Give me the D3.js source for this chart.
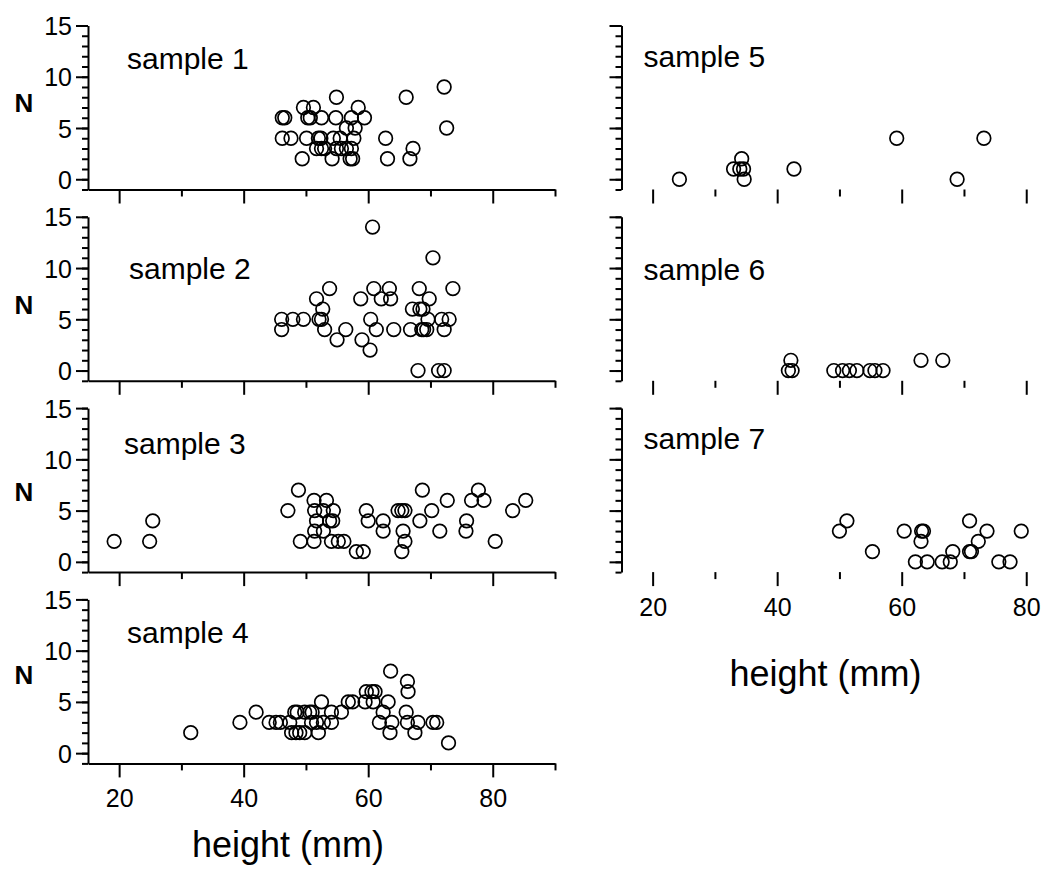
<!DOCTYPE html>
<html>
<head>
<meta charset="utf-8">
<script src="https://cdn.jsdelivr.net/npm/d3@7"></script>
<style>
  html, body { margin: 0; padding: 0; background: #fff; }
  svg text { font-family: "Liberation Sans", Arial, Helvetica, sans-serif; fill: #000; }
</style>
</head>
<body>
<svg id="chart" width="1044" height="874"></svg>
<script>
// Shell height (mm) and count N for each sample: [height, N]
const sample1 = [[46.2,6],[46.6,6],[46.2,4],[47.6,4],[49.4,2],[49.6,7],[51.2,7],[50.1,4],[50.3,6],[50.7,6],
  [52.0,4],[52.4,4],[51.7,3],[52.5,3],[53.0,3],[52.5,6],[54.2,2],[54.4,4],[55.5,4],[54.9,8],[54.8,6],[54.9,3],
  [55.7,3],[56.5,3],[57.3,3],[57.1,2],[57.5,2],[57.3,6],[56.5,5],[57.9,5],[58.4,7],[59.4,6],[57.7,4],
  [62.8,4],[63.1,2],[66.1,8],[66.7,2],[67.2,3],[72.2,9],[72.6,5]];
const sample2 = [[46.1,5],[46.1,4],[47.9,5],[49.6,5],[51.7,7],[52.1,5],[52.5,5],[52.7,6],[53.0,4],[53.8,8],
  [55.0,3],[56.4,4],[58.8,7],[59.0,3],[60.4,5],[60.3,2],[60.7,14],[60.9,8],[61.3,4],[62.1,7],[63.4,8],[63.6,7],
  [64.1,4],[66.8,4],[67.1,6],[68.0,0],[68.2,8],[68.3,6],[68.8,6],[68.6,4],[68.9,4],[69.4,4],[69.8,7],[69.6,5],
  [70.4,11],[71.3,0],[72.2,0],[71.8,5],[73.0,5],[72.2,4],[73.6,8]];
const sample3 = [[19.2,2],[24.9,2],[25.4,4],[47.1,5],[48.8,7],[49.1,2],[51.3,6],[51.4,5],[51.7,4],[51.4,3],
  [51.3,2],[52.8,5],[53.3,6],[52.8,3],[53.8,4],[54.3,4],[54.4,5],[54.1,2],[55.2,2],[56.1,2],[58.1,1],[59.2,1],
  [59.7,5],[60.0,4],[62.4,4],[62.4,3],[64.8,5],[65.4,5],[65.9,5],[65.6,3],[65.9,2],[65.4,1],[68.3,4],[68.7,7],
  [70.2,5],[71.5,3],[72.7,6],[75.8,4],[75.7,3],[76.6,6],[77.7,7],[78.6,6],[80.4,2],[83.2,5],[85.3,6]];
const sample4 = [[31.5,2],[39.4,3],[42.0,4],[44.1,3],[45.2,3],[45.9,3],[47.7,2],[48.4,2],[49.0,2],[49.8,2],
  [52.0,2],[48.2,4],[48.6,4],[49.8,4],[50.6,4],[51.0,4],[47.4,3],[50.9,3],[51.7,3],[52.8,3],[54.1,3],[52.5,5],
  [54.1,4],[55.7,4],[56.8,5],[57.5,5],[59.7,6],[60.6,6],[61.1,6],[59.5,5],[60.8,5],[63.2,5],[62.4,4],[61.8,3],
  [63.8,3],[63.5,2],[63.6,8],[66.3,7],[66.4,6],[66.1,4],[66.3,3],[68.0,3],[67.5,2],[70.4,3],[71.0,3],[72.9,1]];
const sample5 = [[24.3,0],[33.0,1],[34.0,1],[34.6,1],[34.3,2],[34.7,0],[42.7,1],[59.2,4],[68.9,0],[73.2,4]];
const sample6 = [[42.2,1],[41.8,0],[42.4,0],[49.1,0],[50.5,0],[51.6,0],[52.8,0],[54.9,0],[55.7,0],[57.0,0],
  [63.1,1],[66.6,1]];
const sample7 = [[50.0,3],[51.2,4],[55.3,1],[60.4,3],[62.2,0],[63.2,3],[63.5,3],[63.1,2],[64.1,0],[66.5,0],
  [67.8,0],[68.2,1],[70.9,4],[70.9,1],[71.2,1],[72.3,2],[73.7,3],[75.6,0],[77.4,0],[79.2,3]];

const sampleNames = ["sample 1","sample 2","sample 3","sample 4","sample 5","sample 6","sample 7"];
const sampleData = [sample1, sample2, sample3, sample4, sample5, sample6, sample7];

// Axis ticks
const xMajorTicks = [20, 40, 60, 80];
const xMinorTicks = [30, 50, 70, 90];
const yMajorTicks = [0, 5, 10, 15];
const yMinorTicks = d3.range(-1, 16);
const xDomain = [15, 90];
const yDomain = [-1, 15];
const xTitle = "height (mm)";
const yTitle = "N";

// Panel layout: column/row placement and label offsets (px)
const colX = [88, 621.5];
const rowY = [25.5, 216.8, 408.1, 599.4];
const panelW = 467, panelH = 164;
const panelPos = [[0,0],[0,1],[0,2],[0,3],[1,0],[1,1],[1,2]];
const labelPos = [[39, 43], [41, 62], [36, 46], [39, 44], [22, 41], [22, 63], [22, 41]];
const nLabelY = [77, 88, 84, 75];

const svg = d3.select("#chart");
const x = d3.scaleLinear().domain(xDomain).range([0, panelW]);
const y = d3.scaleLinear().domain(yDomain).range([panelH, 0]);

const AXIS_W = 2;

function styleAxis(g) {
  g.selectAll("path.domain").attr("stroke", "#000").attr("stroke-width", AXIS_W);
  g.selectAll(".tick line").attr("stroke", "#000").attr("stroke-width", AXIS_W);
}

sampleData.forEach((data, i) => {
  const [col, row] = panelPos[i];
  const g = svg.append("g").attr("transform", `translate(${colX[col]},${rowY[row]})`);
  const isLeft = col === 0;
  const showXLabels = (col === 0 && row === 3) || (col === 1 && row === 2);

  // y axis: minor ticks every unit, major ticks with labels on left column
  const yMinor = g.append("g")
    .call(d3.axisLeft(y).tickValues(yMinorTicks).tickSize(6).tickSizeOuter(0).tickFormat(""));
  yMinor.selectAll("text").remove();
  styleAxis(yMinor);
  const yMajor = g.append("g")
    .call(d3.axisLeft(y).tickValues(yMajorTicks).tickSize(12).tickSizeOuter(0).tickPadding(4)
      .tickFormat(isLeft ? d3.format("d") : ""));
  yMajor.select("path.domain").remove();
  yMajor.selectAll("text").attr("font-size", 25).attr("dy", "0.36em");
  styleAxis(yMajor);

  // x axis
  const xg = g.append("g").attr("transform", `translate(0,${panelH})`);
  const xMinor = xg.append("g")
    .call(d3.axisBottom(x).tickValues(xMinorTicks).tickSize(7).tickSizeOuter(0).tickFormat(""));
  xMinor.selectAll("text").remove();
  styleAxis(xMinor);
  if (!isLeft) xMinor.select("path.domain").remove();
  const xMajor = xg.append("g")
    .call(d3.axisBottom(x).tickValues(xMajorTicks).tickSize(14).tickSizeOuter(0).tickPadding(12)
      .tickFormat(showXLabels ? d3.format("d") : ""));
  xMajor.select("path.domain").remove();
  xMajor.selectAll("text").attr("font-size", 25).attr("dy", "0.71em");
  styleAxis(xMajor);

  // points
  g.append("g").selectAll("circle")
    .data(data)
    .join("circle")
    .attr("cx", d => x(d[0]))
    .attr("cy", d => y(d[1]))
    .attr("r", 6.8)
    .attr("fill", "none")
    .attr("stroke", "#000")
    .attr("stroke-width", 1.7);

  // panel label
  g.append("text")
    .attr("x", labelPos[i][0])
    .attr("y", labelPos[i][1])
    .attr("font-size", 30)
    .text(sampleNames[i]);

  // N label on the left column
  if (isLeft) {
    g.append("text")
      .attr("x", 24 - colX[0])
      .attr("y", nLabelY[row])
      .attr("text-anchor", "middle")
      .attr("dy", "0.36em")
      .attr("font-size", 26)
      .attr("font-weight", "bold")
      .text(yTitle);
  }

  // x-axis title under the bottom panel of each column
  if (showXLabels) {
    g.append("text")
      .attr("x", isLeft ? 200 : 204)
      .attr("y", panelH + (isLeft ? 94 : 114))
      .attr("text-anchor", "middle")
      .attr("font-size", 36)
      .text(xTitle);
  }
});
</script>
</body>
</html>
